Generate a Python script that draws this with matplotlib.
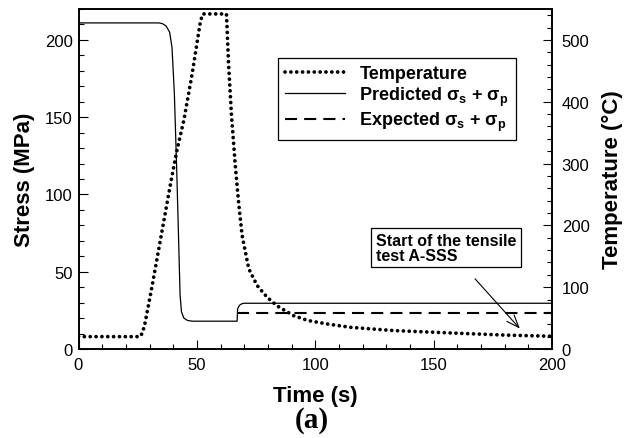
import numpy as np
import matplotlib
matplotlib.use("Agg")
from matplotlib import pyplot as plt
from matplotlib.ticker import MultipleLocator

plt.rcParams['font.family'] = ['Liberation Sans', 'DejaVu Sans']
plt.rcParams['mathtext.fontset'] = 'custom'
plt.rcParams['mathtext.rm'] = 'Liberation Sans'
plt.rcParams['mathtext.bf'] = 'Liberation Sans:bold'

# predicted stress history (s, MPa)
stress_t = [0, 34, 35.5, 37, 38.5, 39.5, 40.5, 41.5, 42.3, 42.9, 43.5, 44.5, 46, 48,
            67.0, 67.2, 68, 69, 70, 200]
stress_v = [211, 211, 210.5, 209, 205, 195, 165, 115, 70, 35, 24, 20, 18.5, 18,
            18, 26, 28.3, 29.3, 29.6, 29.6]

# expected stress after reheating
expected_t = [67, 200]
expected_v = [23.5, 23.5]

# thermal cycle (s, degC)
temp_t = [0, 26, 27, 28, 29, 31, 35, 39, 41.5, 44.5, 48, 51.5, 52.5, 62.5, 63.4, 64.6,
          66.2, 67.6, 69.1, 71.9, 75.4, 79.6, 83.8, 90.8, 97, 104.9, 115, 133, 161,
          180, 200]
temp_v = [20, 20, 26, 40, 60, 100, 185, 270, 320, 370, 445, 530, 542, 542, 460, 379,
          298, 238, 184, 130, 103, 84, 70, 54, 46, 40.6, 35, 29.8, 25.4, 22.5, 20.6]

fig = plt.figure(figsize=(6.34, 4.39), dpi=100)
ax = fig.add_axes([78.5/634, 1-350/439, (552-78.5)/634, 340/439])
ax2 = ax.twinx()

ax.plot(stress_t, stress_v, color='black', lw=0.9, label=r'Predicted σ$_\mathbf{s}$ + σ$_\mathbf{p}$')
ax.plot(expected_t, expected_v, color='black', lw=1.5, linestyle=(0, (5.8, 3.4)),
        label=r'Expected σ$_\mathbf{s}$ + σ$_\mathbf{p}$')
tl, = ax2.plot(temp_t, temp_v, color='black', lw=2.7, linestyle=(0, (0.01, 1.55)),
               dash_capstyle='round', label='Temperature')

ax.set_xlim(0, 200)
ax.set_ylim(0, 220)
ax2.set_ylim(0, 550)

ax.xaxis.set_major_locator(MultipleLocator(50))
ax.xaxis.set_minor_locator(MultipleLocator(10))
ax.yaxis.set_major_locator(MultipleLocator(50))
ax.yaxis.set_minor_locator(MultipleLocator(10))
ax2.yaxis.set_major_locator(MultipleLocator(100))
ax2.yaxis.set_minor_locator(MultipleLocator(20))

for a in (ax, ax2):
    a.tick_params(which='both', direction='in', labelsize=12, width=0.8)
    a.tick_params(which='major', length=6.5)
    a.tick_params(which='minor', length=3.8)
    for s in a.spines.values():
        s.set_linewidth(1.2)
ax.tick_params(axis='x', pad=6)
ax.tick_params(axis='y', pad=4)
ax2.tick_params(axis='y', pad=7)

ax.set_xlabel('Time (s)', fontsize=16, fontweight='bold', labelpad=9)
ax.set_ylabel('Stress (MPa)', fontsize=16, fontweight='bold', labelpad=7)
ax2.set_ylabel('Temperature (°C)', fontsize=16, fontweight='bold', labelpad=9)

fig.text(312/634, 1-421/439, '(a)', family='Liberation Serif', fontweight='bold',
         fontsize=21, ha='center', va='center')

h1, l1 = ax.get_legend_handles_labels()
leg = ax2.legend([tl] + h1, ['Temperature'] + l1, loc='upper left',
                 bbox_to_anchor=((278-78.5)/473.5, 1-(59-10)/340), borderaxespad=0,
                 prop={'weight': 'bold', 'size': 13}, frameon=True, fancybox=False,
                 edgecolor='black', framealpha=1, handlelength=3.3,
                 handletextpad=0.8, labelspacing=0.12, borderpad=0.4)
leg.get_frame().set_linewidth(0.9)

ax2.annotate('', xy=(187.2, 29.7), xytext=(166.7, 116.9),
             arrowprops=dict(arrowstyle='->,head_length=0.9,head_width=0.35',
                             color='black', lw=0.8))
ax2.text(155.4, 163.6, 'Start of the tensile\ntest A-SSS', fontsize=11.5,
         fontweight='bold', ha='center', va='center', multialignment='left',
         linespacing=0.95,
         bbox=dict(boxstyle='square,pad=0.3', fc='white', ec='black', lw=0.9))

fig.savefig('out.png', dpi=100)
